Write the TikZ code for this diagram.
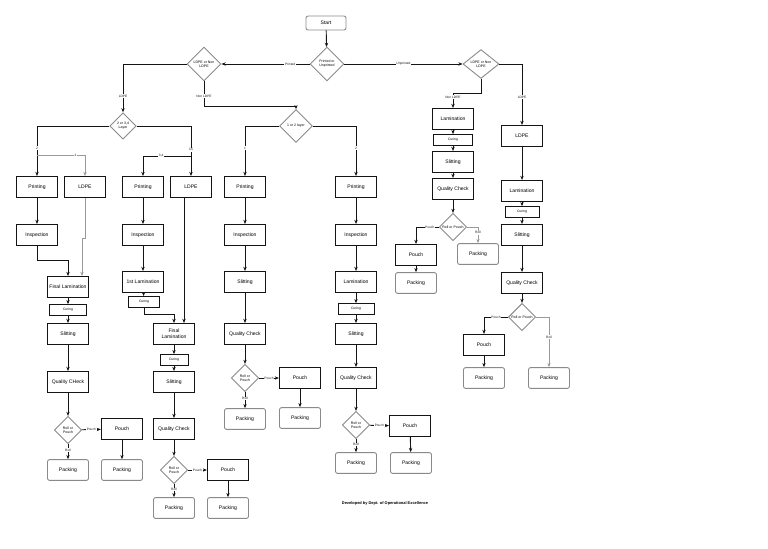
\documentclass[tikz,border=0pt]{standalone}
\usepackage{fontspec}
\setmainfont{Liberation Sans}
\usetikzlibrary{arrows.meta,positioning,shapes.geometric,calc}
\definecolor{ink}{HTML}{141414}
\definecolor{boxgray}{HTML}{8A8A8A}
\definecolor{linegray}{HTML}{9A9A9A}
\tikzset{
  stepbox/.style={
    rectangle, draw=ink, line width=0.85pt,
    minimum width=1.025cm, minimum height=0.52cm,
    font=\fontsize{3.6}{4.2}\selectfont, align=center,
    inner sep=0.5pt
  },
  curebox/.style={
    rectangle, draw=ink, line width=0.65pt,
    minimum width=#1, minimum height=0.27cm,
    font=\fontsize{2.4}{2.8}\selectfont, inner sep=0pt
  },
  curebox/.default=0.95cm,
  endbox/.style={
    rectangle, rounded corners=1.5pt, draw=boxgray, line width=0.65pt,
    minimum width=1.025cm, minimum height=0.52cm,
    font=\fontsize{3.6}{4.2}\selectfont, inner sep=0.5pt
  },
  decision/.style={
    diamond, draw=boxgray, line width=0.65pt,
    minimum width=#1, minimum height=#1, inner sep=0.3pt,
    font=\fontsize{2.5}{2.9}\selectfont, align=center
  },
  decision/.default=0.68cm,
  flowarrow/.style={
    -{Stealth[length=3pt,width=2.4pt]}, line width=0.65pt, color=#1
  },
  flowarrow/.default=ink,
  lbl/.style={
    fill=white, inner sep=0.4pt, text=ink,
    font=\fontsize{2.3}{2.6}\selectfont
  },
}

\begin{document}
\begin{tikzpicture}[x=0.025cm, y=-0.025cm]
  \useasboundingbox (0,0) rectangle (768,548);

  % ── top decisions ──
  \node[endbox, minimum width=1cm, minimum height=0.35cm] (start) at (326,23) {Start};
  \node[decision=0.85cm] (printq) at (327,64) {Printed or\\Unprinted};
  \node[decision=0.85cm] (ldpeqL) at (204,64) {LDPE or Non\\LDPE};
  \node[decision, minimum width=0.9cm, minimum height=0.7cm] (ldpeqR) at (481,64) {LDPE or Non\\LDPE};
  \node[decision=0.66cm] (layq1) at (123,126) {2 or 3,4\\Layer};
  \node[decision=0.82cm] (layq2) at (296,126) {1 or 2 layer};

  \draw[flowarrow] (start) -- (printq);
  \draw[flowarrow] (printq) -- node[lbl, pos=0.22]{Printed} (ldpeqL);
  \draw[flowarrow] (printq) -- node[lbl, pos=0.5]{Unprinted} (ldpeqR);
  \draw[flowarrow] (ldpeqL.west) -| node[lbl, pos=0.83]{LDPE} (layq1.north);
  \coordinate (nl1) at (204,106);
  \draw[flowarrow] (ldpeqL.south) -- node[lbl, pos=0.6]{Non LDPE} (nl1) -| (layq2.north);

  % ── LDPE, 2 or 3,4 layer ──
  \node[stepbox] (pr1) at (37,187) {Printing};
  \node[stepbox] (ldpe2) at (85,187) {LDPE};
  \node[stepbox] (ins1) at (37,235) {Inspection};
  \node[stepbox] (fl1) at (68,287) {Final Lamination};
  \node[curebox=0.93cm] (cur1) at (68,310) {Curing};
  \node[stepbox] (sl1) at (68,334) {Slitting};
  \node[stepbox] (qc1) at (68,382) {Quality CHeck};
  \node[decision] (rp1) at (68,430) {Roll or\\Pouch};
  \node[stepbox] (po1) at (122,429) {Pouch};
  \node[endbox] (pk1a) at (68,470) {Packing};
  \node[endbox] (pk1b) at (122,470) {Packing};

  \node[stepbox] (pr3) at (143,187) {Printing};
  \node[stepbox] (ldpe4) at (191,187) {LDPE};
  \node[stepbox] (ins3) at (143,235) {Inspection};
  \node[stepbox] (lam3) at (143,282) {1st Lamination};
  \node[curebox=0.78cm] (cur3) at (144,302) {Curing};
  \node[stepbox] (fl3) at (174,334) {Final\\Lamination};
  \node[curebox=0.7cm] (cur4) at (174,360) {Curing};
  \node[stepbox] (sl3) at (174,382) {Slitting};
  \node[stepbox] (qc3) at (174,429) {Quality Check};
  \node[decision] (rp3) at (174,470) {Roll or\\Pouch};
  \node[stepbox] (po3) at (228,470) {Pouch};
  \node[endbox] (pk3a) at (174,508) {Packing};
  \node[endbox] (pk3b) at (228,508) {Packing};

  \draw[flowarrow] (layq1.west) -| node[lbl, pos=0.72]{2} (pr1.north);
  \draw[flowarrow] (layq1.east) -| node[lbl, pos=0.74]{3,5} (ldpe4.north);
  \coordinate (br1) at (37,155);
  \draw[flowarrow=linegray] (br1) -| node[lbl, pos=0.4]{3} (ldpe2.north);
  \coordinate (br4) at (191,156);
  \draw[flowarrow] (br4) -| node[lbl, pos=0.31]{3,4} (pr3.north);

  \draw[flowarrow] (pr1) -- (ins1);
  \draw[flowarrow] (ins1.south) -- ++(0,14) -| (fl1.north);
  \draw[flowarrow=linegray] (ldpe2.south) -- ++(0,40) -| ($(fl1.north)+(14,0)$);
  \draw[flowarrow] (fl1) -- (cur1);
  \draw[flowarrow] (cur1) -- (sl1);
  \draw[flowarrow] (sl1) -- (qc1);
  \draw[flowarrow] (qc1) -- (rp1);
  \draw[flowarrow] (rp1) -- node[lbl]{Pouch} (po1);
  \draw[flowarrow] (rp1) -- node[lbl, pos=0.4]{Roll} (pk1a);
  \draw[flowarrow] (po1) -- (pk1b);

  \coordinate (fl3x) at ($(fl3.north)+(10,0)$);
  \draw[flowarrow] (pr3) -- (ins3);
  \draw[flowarrow] (ins3) -- (lam3);
  \draw[flowarrow] (lam3) -- (cur3);
  \draw[flowarrow] (cur3.south) -- ++(0,7) -| (fl3.north);
  \draw[flowarrow] (ldpe4.south -| fl3x) -- (fl3x);
  \draw[flowarrow] (fl3) -- (cur4);
  \draw[flowarrow] (cur4) -- (sl3);
  \draw[flowarrow] (sl3) -- (qc3);
  \draw[flowarrow] (qc3) -- (rp3);
  \draw[flowarrow] (rp3) -- node[lbl]{Pouch} (po3);
  \draw[flowarrow] (rp3) -- node[lbl, pos=0.4]{Roll} (pk3a);
  \draw[flowarrow] (po3) -- (pk3b);

  % ── Non LDPE, 1 or 2 layer ──
  \node[stepbox] (pr5) at (245,187) {Printing};
  \node[stepbox] (ins5) at (245,235) {Inspection};
  \node[stepbox] (sl5) at (245,282) {Slitting};
  \node[stepbox] (qc5) at (245,334) {Quality Check};
  \node[decision] (rp5) at (245,378) {Roll or\\Pouch};
  \node[stepbox] (po5) at (300,378) {Pouch};
  \node[endbox] (pk5a) at (245,419) {Packing};
  \node[endbox] (pk5b) at (300,418) {Packing};

  \node[stepbox] (pr6) at (356,187) {Printing};
  \node[stepbox] (ins6) at (356,235) {Inspection};
  \node[stepbox] (lam6) at (356,282) {Lamination};
  \node[curebox=0.9cm] (cur6) at (356,309) {Curing};
  \node[stepbox] (sl6) at (356,334) {Slitting};
  \node[stepbox] (qc6) at (356,378) {Quality Check};
  \node[decision] (rp6) at (356,425) {Roll or\\Pouch};
  \node[stepbox] (po6) at (410,426) {Pouch};
  \node[endbox] (pk6a) at (356,463) {Packing};
  \node[endbox] (pk6b) at (411,463) {Packing};

  \draw[flowarrow] (layq2.west) -| node[lbl, pos=0.72]{1} (pr5.north);
  \draw[flowarrow] (layq2.east) -| node[lbl, pos=0.72]{2} (pr6.north);

  \draw[flowarrow] (pr5) -- (ins5);
  \draw[flowarrow] (ins5) -- (sl5);
  \draw[flowarrow] (sl5) -- (qc5);
  \draw[flowarrow] (qc5) -- (rp5);
  \draw[flowarrow] (rp5) -- node[lbl]{Pouch} (po5);
  \draw[flowarrow] (rp5) -- node[lbl, pos=0.4]{Roll} (pk5a);
  \draw[flowarrow] (po5) -- (pk5b);

  \draw[flowarrow] (pr6) -- (ins6);
  \draw[flowarrow] (ins6) -- (lam6);
  \draw[flowarrow] (lam6) -- (cur6);
  \draw[flowarrow] (cur6) -- (sl6);
  \draw[flowarrow] (sl6) -- (qc6);
  \draw[flowarrow] (qc6) -- (rp6);
  \draw[flowarrow] (rp6) -- node[lbl]{Pouch} (po6);
  \draw[flowarrow] (rp6) -- node[lbl, pos=0.4]{Roll} (pk6a);
  \draw[flowarrow] (po6) -- (pk6b);

  % ── Unprinted ──
  \node[stepbox] (lamA) at (453,119) {Lamination};
  \node[curebox=0.97cm] (curA) at (453,140) {Curing};
  \node[stepbox] (slA) at (453,162) {Slitting};
  \node[stepbox] (qcA) at (453,189) {Quality Check};
  \node[decision] (rpA) at (453,227) {Roll or Pouch};
  \node[stepbox] (poA) at (416,255) {Pouch};
  \node[endbox] (pkA1) at (416,283) {Packing};
  \node[endbox] (pkA2) at (478,254) {Packing};

  \node[stepbox] (ldpeB) at (522,136) {LDPE};
  \node[stepbox] (lamB) at (522,191) {Lamination};
  \node[curebox=0.85cm] (curB) at (522,212) {Curing};
  \node[stepbox] (slB) at (522,235) {Slitting};
  \node[stepbox] (qcB) at (522,283) {Quality Check};
  \node[decision] (rpB) at (522,317) {Roll or Pouch};
  \node[stepbox] (poB) at (484,345) {Pouch};
  \node[endbox] (pkB1) at (484,378) {Packing};
  \node[endbox] (pkB2) at (549,378) {Packing};

  \coordinate (nl2) at (481,93);
  \draw[flowarrow] (ldpeqR.south) -- (nl2) -| node[lbl, pos=0.63]{Non LDPE} (lamA.north);
  \draw[flowarrow] (ldpeqR.east) -| node[lbl, pos=0.77]{LDPE} (ldpeB.north);

  \draw[flowarrow] (lamA) -- (curA);
  \draw[flowarrow] (curA) -- (slA);
  \draw[flowarrow] (slA) -- (qcA);
  \draw[flowarrow] (qcA) -- (rpA);
  \draw[flowarrow] (rpA.west) -| node[lbl, pos=0.2]{Pouch} (poA.north);
  \draw[flowarrow=linegray] (rpA.east) -| node[lbl, pos=0.68]{Roll} (pkA2.north);
  \draw[flowarrow] (poA) -- (pkA1);

  \draw[flowarrow] (ldpeB) -- (lamB);
  \draw[flowarrow] (lamB) -- (curB);
  \draw[flowarrow] (curB) -- (slB);
  \draw[flowarrow] (slB) -- (qcB);
  \draw[flowarrow] (qcB) -- (rpB);
  \draw[flowarrow] (rpB.west) -| node[lbl, pos=0.25]{Pouch} (poB.north);
  \draw[flowarrow=linegray] (rpB.east) -| node[lbl, pos=0.7]{Roll} (pkB2.north);
  \draw[flowarrow] (poB) -- (pkB1);

  \node[font=\fontsize{2.8}{3.2}\selectfont\bfseries] (credit) at (385,503)
    {Developed by Dept. of Operational Excellence};
\end{tikzpicture}
\end{document}
